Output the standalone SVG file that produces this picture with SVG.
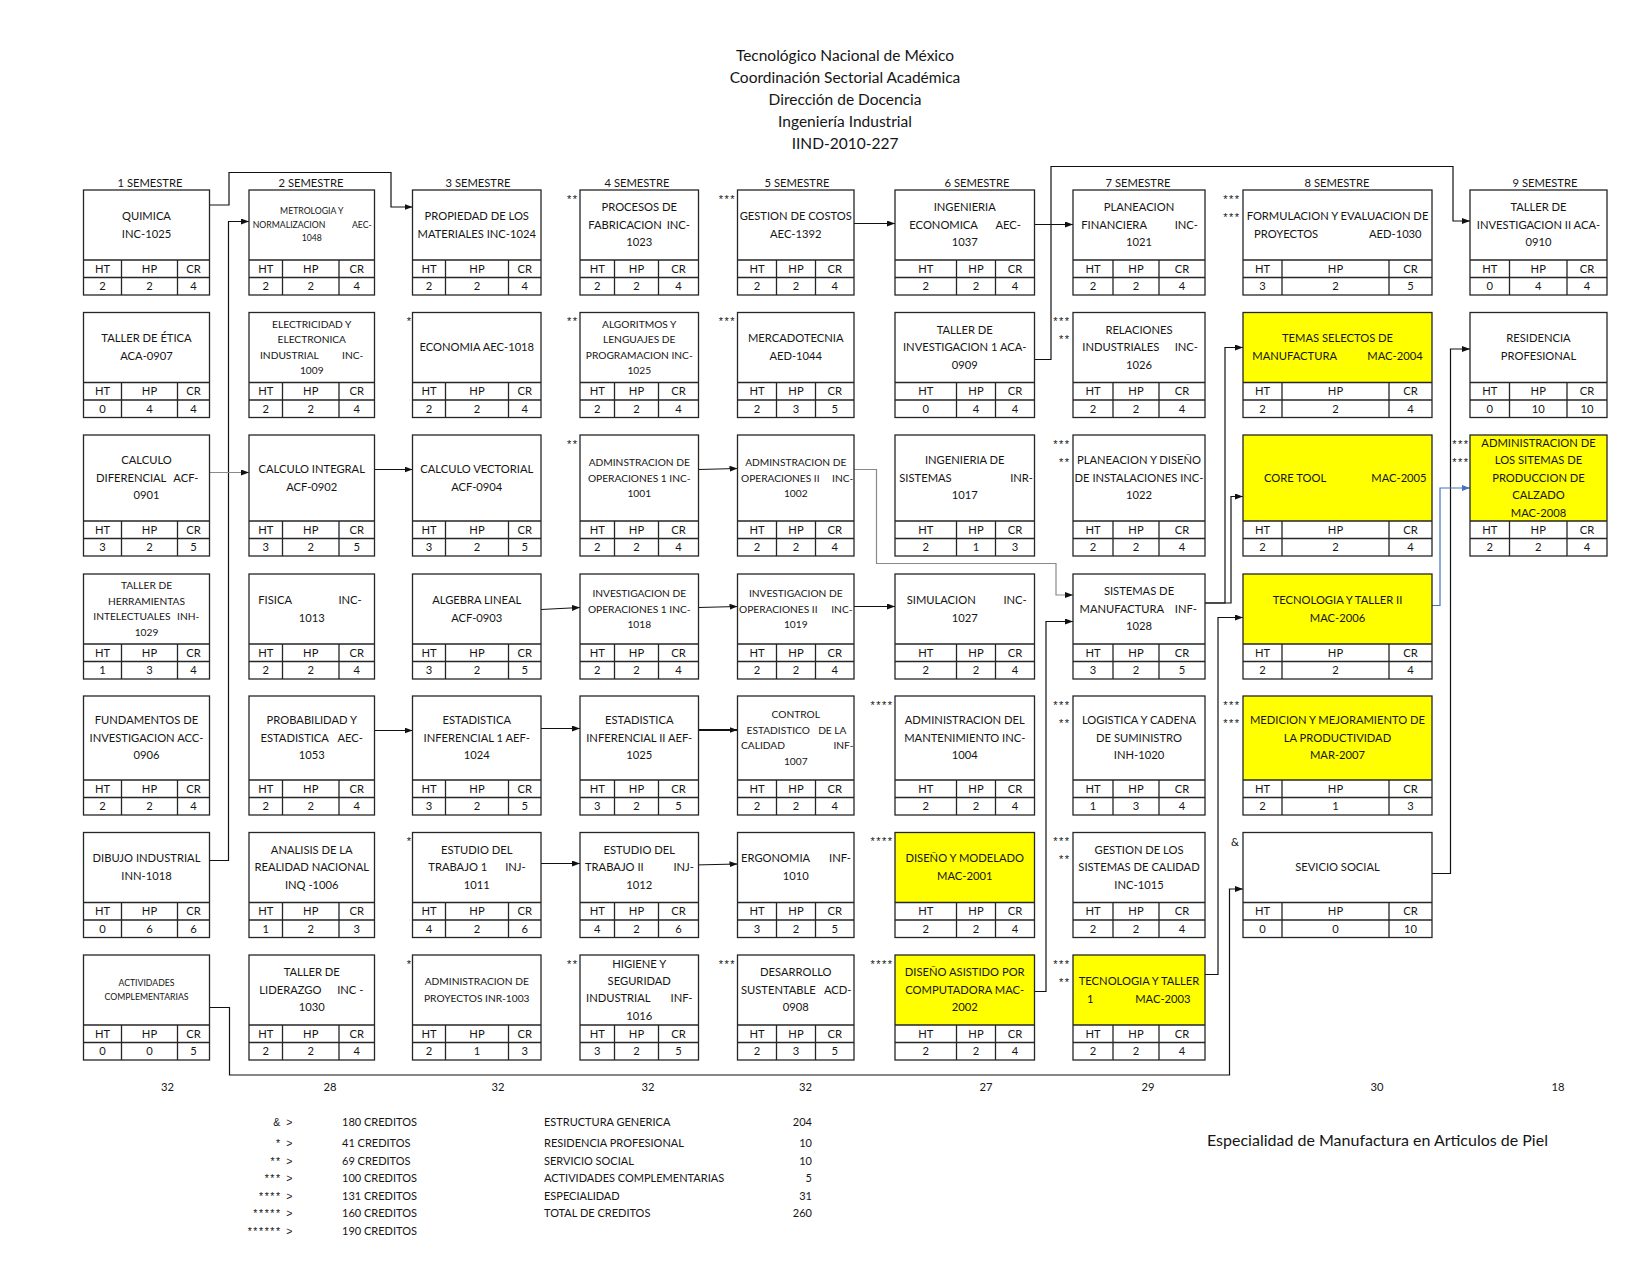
<svg xmlns="http://www.w3.org/2000/svg" width="1650" height="1275" viewBox="0 0 1650 1275">
<style>
text{font-family:Lato,"Liberation Sans",sans-serif;font-size:11.2px;fill:#151515;text-anchor:middle}
.l{text-anchor:start}.r{text-anchor:end}
.s{font-size:10.2px}.xs{font-size:8.7px}
.ttl{font-size:15.5px}
.lg{font-size:11px}
.sy{font-family:"Liberation Sans",sans-serif;font-size:10.5px;letter-spacing:1.6px}
.st{font-family:"Liberation Sans",sans-serif;font-size:11px;letter-spacing:1.5px;text-anchor:end}
.sp{font-size:16px;text-anchor:start}
.b{fill:#fff;stroke:#262626;stroke-width:1.3}
.o{fill:none;stroke:#262626;stroke-width:1.3}
.yf{fill:#ffff00}
.tb{fill:none;stroke:#262626;stroke-width:1.3}
.cn{fill:none;stroke:#111;stroke-width:1.2;marker-end:url(#a)}
.gr{stroke:#8a8a8a}
.bl{stroke:#4472c4;marker-end:url(#ab)}
</style>
<defs>
<marker id="a" viewBox="0 0 8 6" refX="8" refY="3" markerWidth="8" markerHeight="6" markerUnits="userSpaceOnUse" orient="auto"><path d="M0,0L8,3L0,6z" fill="#111"/></marker>
<marker id="ab" viewBox="0 0 8 6" refX="8" refY="3" markerWidth="8" markerHeight="6" markerUnits="userSpaceOnUse" orient="auto"><path d="M0,0L8,3L0,6z" fill="#4472c4"/></marker>
</defs>
<rect width="1650" height="1275" fill="#fff"/>

<g id="title">
<text class="ttl" x="845" y="60.8">Tecnológico Nacional de México</text>
<text class="ttl" x="845" y="82.9">Coordinación Sectorial Académica</text>
<text class="ttl" x="845" y="105">Dirección de Docencia</text>
<text class="ttl" x="845" y="127">Ingeniería Industrial</text>
<text class="ttl" x="845" y="149">IIND-2010-227</text>
</g>

<g id="semesters">
<text x="150" y="186.5">1 SEMESTRE</text>
<text x="311" y="186.5">2 SEMESTRE</text>
<text x="478" y="186.5">3 SEMESTRE</text>
<text x="637" y="186.5">4 SEMESTRE</text>
<text x="797" y="186.5">5 SEMESTRE</text>
<text x="977" y="186.5">6 SEMESTRE</text>
<text x="1138" y="186.5">7 SEMESTRE</text>
<text x="1337" y="186.5">8 SEMESTRE</text>
<text x="1545" y="186.5">9 SEMESTRE</text>
</g>

<g id="connectors">
<path class="cn" d="M209.5,205H229V172.5H391V207H412.5"/>
<path class="cn" d="M209.5,860.5H228.5V221.5H249"/>
<path class="cn gr" d="M209.5,472.5H249"/>
<path class="cn" d="M374.5,469.5H412.5"/>
<path class="cn" d="M541,609.5L580,607.5"/>
<path class="cn" d="M374.5,730.5H412.5"/>
<path class="cn" d="M541,728.5H580"/>
<path class="cn" style="stroke-width:2" d="M698.5,730H737.5"/>
<path class="cn" d="M541,863.5H580"/>
<path class="cn" d="M694,865L737.5,864"/>
<path class="cn" d="M698.5,469.5L737.5,468.5"/>
<path class="cn" d="M698.5,607.5L737.5,606.5"/>
<path class="cn" d="M854,606.5H895"/>
<path class="cn" d="M854,223.5H895"/>
<path class="cn" d="M1034.5,224.5H1073"/>
<path class="cn" d="M1034.5,359.5H1051V166.5H1453V221H1470"/>
<path class="cn gr" d="M854,469.5H876.5V563.5H1056V595H1073"/>
<path class="cn" d="M1034.5,991.5H1046V621.5H1073"/>
<path class="cn" d="M1196,603H1225V347.5H1243"/>
<path class="cn" d="M1196,603H1231V496.5H1243"/>
<path class="cn" d="M1205,974.5H1218V617.5H1243"/>
<path class="cn" d="M209.5,1007.5H229.5V1075H1229.5V889H1243"/>
<path class="cn" d="M1432,873.5H1450.5V349H1470"/>
<path class="cn bl" d="M1432,605.5H1440V488H1470"/>
</g>

<!-- Column 1 -->
<g id="c1-quimica" transform="translate(83.5,190)">
<rect class="b" width="126" height="105"/><path class="tb" d="M0,70H126M0,87.5H126M38,70V105M94,70V105"/>
<text x="63" y="29.7">QUIMICA</text><text x="63" y="47.7">INC-1025</text>
<text y="82.5"><tspan x="19">HT</tspan><tspan x="66">HP</tspan><tspan x="110">CR</tspan></text>
<text y="100"><tspan x="19">2</tspan><tspan x="66">2</tspan><tspan x="110">4</tspan></text>
</g>
<g id="c1-etica" transform="translate(83.5,312.5)">
<rect class="b" width="126" height="105"/><path class="tb" d="M0,70H126M0,87.5H126M38,70V105M94,70V105"/>
<text x="63" y="29.7">TALLER DE ÉTICA</text><text x="63" y="47.7">ACA-0907</text>
<text y="82.5"><tspan x="19">HT</tspan><tspan x="66">HP</tspan><tspan x="110">CR</tspan></text>
<text y="100"><tspan x="19">0</tspan><tspan x="66">4</tspan><tspan x="110">4</tspan></text>
</g>
<g id="c1-calculo-diferencial" transform="translate(83.5,435)">
<rect class="b" width="126" height="121"/><path class="tb" d="M0,86H126M0,103.5H126M38,86V121M94,86V121"/>
<text x="63" y="29.2">CALCULO</text><text class="l" x="12.5" y="46.7">DIFERENCIAL</text><text class="r" x="115" y="46.7">ACF-</text><text x="63" y="64.2">0901</text>
<text y="98.5"><tspan x="19">HT</tspan><tspan x="66">HP</tspan><tspan x="110">CR</tspan></text>
<text y="116"><tspan x="19">3</tspan><tspan x="66">2</tspan><tspan x="110">5</tspan></text>
</g>
<g id="c1-herramientas" transform="translate(83.5,574)">
<rect class="b" width="126" height="105"/><path class="tb" d="M0,70H126M0,87.5H126M38,70V105M94,70V105"/>
<text class="s" x="63" y="15.25">TALLER DE</text><text class="s" x="63" y="30.75">HERRAMIENTAS</text><text class="s l" x="9.8" y="46.25">INTELECTUALES</text><text class="s r" x="115.8" y="46.25">INH-</text><text class="s" x="63" y="61.75">1029</text>
<text y="82.5"><tspan x="19">HT</tspan><tspan x="66">HP</tspan><tspan x="110">CR</tspan></text>
<text y="100"><tspan x="19">1</tspan><tspan x="66">3</tspan><tspan x="110">4</tspan></text>
</g>
<g id="c1-fundamentos" transform="translate(83.5,696)">
<rect class="b" width="126" height="119"/><path class="tb" d="M0,84H126M0,101.5H126M38,84V119M94,84V119"/>
<text x="63" y="28.2">FUNDAMENTOS DE</text><text x="63" y="45.7">INVESTIGACION ACC-</text><text x="63" y="63.2">0906</text>
<text y="96.5"><tspan x="19">HT</tspan><tspan x="66">HP</tspan><tspan x="110">CR</tspan></text>
<text y="114"><tspan x="19">2</tspan><tspan x="66">2</tspan><tspan x="110">4</tspan></text>
</g>
<g id="c1-dibujo" transform="translate(83.5,832.5)">
<rect class="b" width="126" height="105"/><path class="tb" d="M0,70H126M0,87.5H126M38,70V105M94,70V105"/>
<text x="63" y="29.7">DIBUJO INDUSTRIAL</text><text x="63" y="47.7">INN-1018</text>
<text y="82.5"><tspan x="19">HT</tspan><tspan x="66">HP</tspan><tspan x="110">CR</tspan></text>
<text y="100"><tspan x="19">0</tspan><tspan x="66">6</tspan><tspan x="110">6</tspan></text>
</g>
<g id="c1-actividades" transform="translate(83.5,955)">
<rect class="b" width="126" height="105"/><path class="tb" d="M0,70H126M0,87.5H126M38,70V105M94,70V105"/>
<text class="xs" x="63" y="31">ACTIVIDADES</text><text class="xs" x="63" y="45">COMPLEMENTARIAS</text>
<text y="82.5"><tspan x="19">HT</tspan><tspan x="66">HP</tspan><tspan x="110">CR</tspan></text>
<text y="100"><tspan x="19">0</tspan><tspan x="66">0</tspan><tspan x="110">5</tspan></text>
</g>

<!-- Column 2 -->
<g id="c2-metrologia" transform="translate(249,190)">
<rect class="b" width="125.5" height="105"/><path class="tb" d="M0,70H125.5M0,87.5H125.5M33.5,70V105M90,70V105"/>
<text class="xs" x="62.75" y="23.7">METROLOGIA Y</text><text class="xs l" x="3.7" y="37.5">NORMALIZACION</text><text class="xs r" x="122.7" y="37.5">AEC-</text><text class="xs" x="62.75" y="51.3">1048</text>
<text y="82.5"><tspan x="16.75">HT</tspan><tspan x="61.75">HP</tspan><tspan x="107.75">CR</tspan></text>
<text y="100"><tspan x="16.75">2</tspan><tspan x="61.75">2</tspan><tspan x="107.75">4</tspan></text>
</g>
<g id="c2-electricidad" transform="translate(249,312.5)">
<rect class="b" width="125.5" height="105"/><path class="tb" d="M0,70H125.5M0,87.5H125.5M33.5,70V105M90,70V105"/>
<text class="s" x="62.75" y="15.25">ELECTRICIDAD Y</text><text class="s" x="62.75" y="30.75">ELECTRONICA</text><text class="s l" x="11" y="46.25">INDUSTRIAL</text><text class="s r" x="114.3" y="46.25">INC-</text><text class="s" x="62.75" y="61.75">1009</text>
<text y="82.5"><tspan x="16.75">HT</tspan><tspan x="61.75">HP</tspan><tspan x="107.75">CR</tspan></text>
<text y="100"><tspan x="16.75">2</tspan><tspan x="61.75">2</tspan><tspan x="107.75">4</tspan></text>
</g>
<g id="c2-calculo-integral" transform="translate(249,435)">
<rect class="b" width="125.5" height="121"/><path class="tb" d="M0,86H125.5M0,103.5H125.5M33.5,86V121M90,86V121"/>
<text x="62.75" y="37.7">CALCULO INTEGRAL</text><text x="62.75" y="55.7">ACF-0902</text>
<text y="98.5"><tspan x="16.75">HT</tspan><tspan x="61.75">HP</tspan><tspan x="107.75">CR</tspan></text>
<text y="116"><tspan x="16.75">3</tspan><tspan x="61.75">2</tspan><tspan x="107.75">5</tspan></text>
</g>
<g id="c2-fisica" transform="translate(249,574)">
<rect class="b" width="125.5" height="105"/><path class="tb" d="M0,70H125.5M0,87.5H125.5M33.5,70V105M90,70V105"/>
<text class="l" x="9.3" y="29.7">FISICA</text><text class="r" x="112.7" y="29.7">INC-</text><text x="62.75" y="47.7">1013</text>
<text y="82.5"><tspan x="16.75">HT</tspan><tspan x="61.75">HP</tspan><tspan x="107.75">CR</tspan></text>
<text y="100"><tspan x="16.75">2</tspan><tspan x="61.75">2</tspan><tspan x="107.75">4</tspan></text>
</g>
<g id="c2-probabilidad" transform="translate(249,696)">
<rect class="b" width="125.5" height="119"/><path class="tb" d="M0,84H125.5M0,101.5H125.5M33.5,84V119M90,84V119"/>
<text x="62.75" y="28.2">PROBABILIDAD Y</text><text class="l" x="11.5" y="45.7">ESTADISTICA</text><text class="r" x="114" y="45.7">AEC-</text><text x="62.75" y="63.2">1053</text>
<text y="96.5"><tspan x="16.75">HT</tspan><tspan x="61.75">HP</tspan><tspan x="107.75">CR</tspan></text>
<text y="114"><tspan x="16.75">2</tspan><tspan x="61.75">2</tspan><tspan x="107.75">4</tspan></text>
</g>
<g id="c2-analisis" transform="translate(249,832.5)">
<rect class="b" width="125.5" height="105"/><path class="tb" d="M0,70H125.5M0,87.5H125.5M33.5,70V105M90,70V105"/>
<text x="62.75" y="21.2">ANALISIS DE LA</text><text x="62.75" y="38.7">REALIDAD NACIONAL</text><text x="62.75" y="56.2">INQ -1006</text>
<text y="82.5"><tspan x="16.75">HT</tspan><tspan x="61.75">HP</tspan><tspan x="107.75">CR</tspan></text>
<text y="100"><tspan x="16.75">1</tspan><tspan x="61.75">2</tspan><tspan x="107.75">3</tspan></text>
</g>
<g id="c2-liderazgo" transform="translate(249,955)">
<rect class="b" width="125.5" height="105"/><path class="tb" d="M0,70H125.5M0,87.5H125.5M33.5,70V105M90,70V105"/>
<text x="62.75" y="21.2">TALLER DE</text><text class="l" x="10.3" y="38.7">LIDERAZGO</text><text class="r" x="114.3" y="38.7">INC -</text><text x="62.75" y="56.2">1030</text>
<text y="82.5"><tspan x="16.75">HT</tspan><tspan x="61.75">HP</tspan><tspan x="107.75">CR</tspan></text>
<text y="100"><tspan x="16.75">2</tspan><tspan x="61.75">2</tspan><tspan x="107.75">4</tspan></text>
</g>

<!-- Column 3 -->
<g id="c3-propiedad" transform="translate(412.5,190)">
<rect class="b" width="128.5" height="105"/><path class="tb" d="M0,70H128.5M0,87.5H128.5M33,70V105M96,70V105"/>
<text x="64.25" y="29.7">PROPIEDAD DE LOS</text><text x="64.25" y="47.7">MATERIALES INC-1024</text>
<text y="82.5"><tspan x="16.5">HT</tspan><tspan x="64.5">HP</tspan><tspan x="112.25">CR</tspan></text>
<text y="100"><tspan x="16.5">2</tspan><tspan x="64.5">2</tspan><tspan x="112.25">4</tspan></text>
</g>
<g id="c3-economia" transform="translate(412.5,312.5)">
<text class="st" x="0" y="12.5">*</text>
<rect class="b" width="128.5" height="105"/><path class="tb" d="M0,70H128.5M0,87.5H128.5M33,70V105M96,70V105"/>
<text x="64.25" y="38.7">ECONOMIA  AEC-1018</text>
<text y="82.5"><tspan x="16.5">HT</tspan><tspan x="64.5">HP</tspan><tspan x="112.25">CR</tspan></text>
<text y="100"><tspan x="16.5">2</tspan><tspan x="64.5">2</tspan><tspan x="112.25">4</tspan></text>
</g>
<g id="c3-calculo-vectorial" transform="translate(412.5,435)">
<rect class="b" width="128.5" height="121"/><path class="tb" d="M0,86H128.5M0,103.5H128.5M33,86V121M96,86V121"/>
<text x="64.25" y="37.7">CALCULO VECTORIAL</text><text x="64.25" y="55.7">ACF-0904</text>
<text y="98.5"><tspan x="16.5">HT</tspan><tspan x="64.5">HP</tspan><tspan x="112.25">CR</tspan></text>
<text y="116"><tspan x="16.5">3</tspan><tspan x="64.5">2</tspan><tspan x="112.25">5</tspan></text>
</g>
<g id="c3-algebra" transform="translate(412.5,574)">
<rect class="b" width="128.5" height="105"/><path class="tb" d="M0,70H128.5M0,87.5H128.5M33,70V105M96,70V105"/>
<text x="64.25" y="29.7">ALGEBRA LINEAL</text><text x="64.25" y="47.7">ACF-0903</text>
<text y="82.5"><tspan x="16.5">HT</tspan><tspan x="64.5">HP</tspan><tspan x="112.25">CR</tspan></text>
<text y="100"><tspan x="16.5">3</tspan><tspan x="64.5">2</tspan><tspan x="112.25">5</tspan></text>
</g>
<g id="c3-estadistica-inf1" transform="translate(412.5,696)">
<rect class="b" width="128.5" height="119"/><path class="tb" d="M0,84H128.5M0,101.5H128.5M33,84V119M96,84V119"/>
<text x="64.25" y="28.2">ESTADISTICA</text><text x="64.25" y="45.7">INFERENCIAL 1 AEF-</text><text x="64.25" y="63.2">1024</text>
<text y="96.5"><tspan x="16.5">HT</tspan><tspan x="64.5">HP</tspan><tspan x="112.25">CR</tspan></text>
<text y="114"><tspan x="16.5">3</tspan><tspan x="64.5">2</tspan><tspan x="112.25">5</tspan></text>
</g>
<g id="c3-estudio-trabajo1" transform="translate(412.5,832.5)">
<text class="st" x="0" y="12.5">*</text>
<rect class="b" width="128.5" height="105"/><path class="tb" d="M0,70H128.5M0,87.5H128.5M33,70V105M96,70V105"/>
<text x="64.25" y="21.2">ESTUDIO DEL</text><text class="l" x="15.8" y="38.7">TRABAJO 1</text><text class="r" x="113.2" y="38.7">INJ-</text><text x="64.25" y="56.2">1011</text>
<text y="82.5"><tspan x="16.5">HT</tspan><tspan x="64.5">HP</tspan><tspan x="112.25">CR</tspan></text>
<text y="100"><tspan x="16.5">4</tspan><tspan x="64.5">2</tspan><tspan x="112.25">6</tspan></text>
</g>
<g id="c3-admin-proyectos" transform="translate(412.5,955)">
<text class="st" x="0" y="12.5">*</text>
<rect class="b" width="128.5" height="105"/><path class="tb" d="M0,70H128.5M0,87.5H128.5M33,70V105M96,70V105"/>
<text class="s" x="64.25" y="30.2">ADMINISTRACION DE</text><text class="s" x="64.25" y="46.8">PROYECTOS INR-1003</text>
<text y="82.5"><tspan x="16.5">HT</tspan><tspan x="64.5">HP</tspan><tspan x="112.25">CR</tspan></text>
<text y="100"><tspan x="16.5">2</tspan><tspan x="64.5">1</tspan><tspan x="112.25">3</tspan></text>
</g>

<!-- Column 4 -->
<g id="c4-procesos" transform="translate(580,190)">
<text class="st" x="-1.5" y="12.5">**</text>
<rect class="b" width="118.5" height="105"/><path class="tb" d="M0,70H118.5M0,87.5H118.5M34.5,70V105M78.5,70V105"/>
<text x="59.25" y="21.2">PROCESOS DE</text><text class="l" x="8.3" y="38.7">FABRICACION</text><text class="r" x="110" y="38.7">INC-</text><text x="59.25" y="56.2">1023</text>
<text y="82.5"><tspan x="17.25">HT</tspan><tspan x="56.5">HP</tspan><tspan x="98.5">CR</tspan></text>
<text y="100"><tspan x="17.25">2</tspan><tspan x="56.5">2</tspan><tspan x="98.5">4</tspan></text>
</g>
<g id="c4-algoritmos" transform="translate(580,312.5)">
<text class="st" x="-1.5" y="12.5">**</text>
<rect class="b" width="118.5" height="105"/><path class="tb" d="M0,70H118.5M0,87.5H118.5M34.5,70V105M78.5,70V105"/>
<text class="s" x="59.25" y="15.25">ALGORITMOS Y</text><text class="s" x="59.25" y="30.75">LENGUAJES DE</text><text class="s" x="59.25" y="46.25">PROGRAMACION INC-</text><text class="s" x="59.25" y="61.75">1025</text>
<text y="82.5"><tspan x="17.25">HT</tspan><tspan x="56.5">HP</tspan><tspan x="98.5">CR</tspan></text>
<text y="100"><tspan x="17.25">2</tspan><tspan x="56.5">2</tspan><tspan x="98.5">4</tspan></text>
</g>
<g id="c4-admin-operaciones1" transform="translate(580,435)">
<text class="st" x="-1.5" y="12.5">**</text>
<rect class="b" width="118.5" height="121"/><path class="tb" d="M0,86H118.5M0,103.5H118.5M34.5,86V121M78.5,86V121"/>
<text class="s" x="59.25" y="31">ADMINSTRACION DE</text><text class="s" x="59.25" y="46.5">OPERACIONES 1 INC-</text><text class="s" x="59.25" y="62">1001</text>
<text y="98.5"><tspan x="17.25">HT</tspan><tspan x="56.5">HP</tspan><tspan x="98.5">CR</tspan></text>
<text y="116"><tspan x="17.25">2</tspan><tspan x="56.5">2</tspan><tspan x="98.5">4</tspan></text>
</g>
<g id="c4-inv-operaciones1" transform="translate(580,574)">
<rect class="b" width="118.5" height="105"/><path class="tb" d="M0,70H118.5M0,87.5H118.5M34.5,70V105M78.5,70V105"/>
<text class="s" x="59.25" y="23">INVESTIGACION DE</text><text class="s" x="59.25" y="38.5">OPERACIONES 1 INC-</text><text class="s" x="59.25" y="54">1018</text>
<text y="82.5"><tspan x="17.25">HT</tspan><tspan x="56.5">HP</tspan><tspan x="98.5">CR</tspan></text>
<text y="100"><tspan x="17.25">2</tspan><tspan x="56.5">2</tspan><tspan x="98.5">4</tspan></text>
</g>
<g id="c4-estadistica-inf2" transform="translate(580,696)">
<rect class="b" width="118.5" height="119"/><path class="tb" d="M0,84H118.5M0,101.5H118.5M34.5,84V119M78.5,84V119"/>
<text x="59.25" y="28.2">ESTADISTICA</text><text x="59.25" y="45.7">INFERENCIAL II AEF-</text><text x="59.25" y="63.2">1025</text>
<text y="96.5"><tspan x="17.25">HT</tspan><tspan x="56.5">HP</tspan><tspan x="98.5">CR</tspan></text>
<text y="114"><tspan x="17.25">3</tspan><tspan x="56.5">2</tspan><tspan x="98.5">5</tspan></text>
</g>
<g id="c4-estudio-trabajo2" transform="translate(580,832.5)">
<rect class="b" width="118.5" height="105"/><path class="tb" d="M0,70H118.5M0,87.5H118.5M34.5,70V105M78.5,70V105"/>
<text x="59.25" y="21.2">ESTUDIO DEL</text><text class="l" x="5" y="38.7">TRABAJO II</text><text class="r" x="114" y="38.7">INJ-</text><text x="59.25" y="56.2">1012</text>
<text y="82.5"><tspan x="17.25">HT</tspan><tspan x="56.5">HP</tspan><tspan x="98.5">CR</tspan></text>
<text y="100"><tspan x="17.25">4</tspan><tspan x="56.5">2</tspan><tspan x="98.5">6</tspan></text>
</g>
<g id="c4-higiene" transform="translate(580,955)">
<text class="st" x="-1.5" y="12.5">**</text>
<rect class="b" width="118.5" height="105"/><path class="tb" d="M0,70H118.5M0,87.5H118.5M34.5,70V105M78.5,70V105"/>
<text x="59.25" y="12.75">HIGIENE Y</text><text x="59.25" y="30.05">SEGURIDAD</text><text class="l" x="6" y="47.35">INDUSTRIAL</text><text class="r" x="112.5" y="47.35">INF-</text><text x="59.25" y="64.65">1016</text>
<text y="82.5"><tspan x="17.25">HT</tspan><tspan x="56.5">HP</tspan><tspan x="98.5">CR</tspan></text>
<text y="100"><tspan x="17.25">3</tspan><tspan x="56.5">2</tspan><tspan x="98.5">5</tspan></text>
</g>

<!-- Column 5 -->
<g id="c5-costos" transform="translate(737.5,190)">
<text class="st" x="-1.5" y="12.5">***</text>
<rect class="b" width="116.5" height="105"/><path class="tb" d="M0,70H116.5M0,87.5H116.5M39,70V105M78,70V105"/>
<text x="58.25" y="29.7">GESTION DE COSTOS</text><text x="58.25" y="47.7">AEC-1392</text>
<text y="82.5"><tspan x="19.5">HT</tspan><tspan x="58.5">HP</tspan><tspan x="97.25">CR</tspan></text>
<text y="100"><tspan x="19.5">2</tspan><tspan x="58.5">2</tspan><tspan x="97.25">4</tspan></text>
</g>
<g id="c5-mercadotecnia" transform="translate(737.5,312.5)">
<text class="st" x="-1.5" y="12.5">***</text>
<rect class="b" width="116.5" height="105"/><path class="tb" d="M0,70H116.5M0,87.5H116.5M39,70V105M78,70V105"/>
<text x="58.25" y="29.7">MERCADOTECNIA</text><text x="58.25" y="47.7">AED-1044</text>
<text y="82.5"><tspan x="19.5">HT</tspan><tspan x="58.5">HP</tspan><tspan x="97.25">CR</tspan></text>
<text y="100"><tspan x="19.5">2</tspan><tspan x="58.5">3</tspan><tspan x="97.25">5</tspan></text>
</g>
<g id="c5-admin-operaciones2" transform="translate(737.5,435)">
<rect class="b" width="116.5" height="121"/><path class="tb" d="M0,86H116.5M0,103.5H116.5M39,86V121M78,86V121"/>
<text class="s" x="58.25" y="31">ADMINSTRACION DE</text><text class="s l" x="3.5" y="46.5">OPERACIONES II</text><text class="s r" x="115.8" y="46.5">INC-</text><text class="s" x="58.25" y="62">1002</text>
<text y="98.5"><tspan x="19.5">HT</tspan><tspan x="58.5">HP</tspan><tspan x="97.25">CR</tspan></text>
<text y="116"><tspan x="19.5">2</tspan><tspan x="58.5">2</tspan><tspan x="97.25">4</tspan></text>
</g>
<g id="c5-inv-operaciones2" transform="translate(737.5,574)">
<rect class="b" width="116.5" height="105"/><path class="tb" d="M0,70H116.5M0,87.5H116.5M39,70V105M78,70V105"/>
<text class="s" x="58.25" y="23">INVESTIGACION DE</text><text class="s l" x="1.5" y="38.5">OPERACIONES II</text><text class="s r" x="115" y="38.5">INC-</text><text class="s" x="58.25" y="54">1019</text>
<text y="82.5"><tspan x="19.5">HT</tspan><tspan x="58.5">HP</tspan><tspan x="97.25">CR</tspan></text>
<text y="100"><tspan x="19.5">2</tspan><tspan x="58.5">2</tspan><tspan x="97.25">4</tspan></text>
</g>
<g id="c5-control-calidad" transform="translate(737.5,696)">
<rect class="b" width="116.5" height="119"/><path class="tb" d="M0,84H116.5M0,101.5H116.5M39,84V119M78,84V119"/>
<text class="s" x="58.25" y="21.95">CONTROL</text><text class="s l" x="9" y="37.65">ESTADISTICO</text><text class="s r" x="109" y="37.65">DE LA</text><text class="s l" x="3.5" y="53.35">CALIDAD</text><text class="s r" x="116" y="53.35">INF-</text><text class="s" x="58.25" y="69.05">1007</text>
<text y="96.5"><tspan x="19.5">HT</tspan><tspan x="58.5">HP</tspan><tspan x="97.25">CR</tspan></text>
<text y="114"><tspan x="19.5">2</tspan><tspan x="58.5">2</tspan><tspan x="97.25">4</tspan></text>
</g>
<g id="c5-ergonomia" transform="translate(737.5,832.5)">
<rect class="b" width="116.5" height="105"/><path class="tb" d="M0,70H116.5M0,87.5H116.5M39,70V105M78,70V105"/>
<text class="l" x="3.5" y="29.7">ERGONOMIA</text><text class="r" x="113.5" y="29.7">INF-</text><text x="58.25" y="47.7">1010</text>
<text y="82.5"><tspan x="19.5">HT</tspan><tspan x="58.5">HP</tspan><tspan x="97.25">CR</tspan></text>
<text y="100"><tspan x="19.5">3</tspan><tspan x="58.5">2</tspan><tspan x="97.25">5</tspan></text>
</g>
<g id="c5-desarrollo" transform="translate(737.5,955)">
<text class="st" x="-1.5" y="12.5">***</text>
<rect class="b" width="116.5" height="105"/><path class="tb" d="M0,70H116.5M0,87.5H116.5M39,70V105M78,70V105"/>
<text x="58.25" y="21.2">DESARROLLO</text><text class="l" x="3.5" y="38.7">SUSTENTABLE</text><text class="r" x="114" y="38.7">ACD-</text><text x="58.25" y="56.2">0908</text>
<text y="82.5"><tspan x="19.5">HT</tspan><tspan x="58.5">HP</tspan><tspan x="97.25">CR</tspan></text>
<text y="100"><tspan x="19.5">2</tspan><tspan x="58.5">3</tspan><tspan x="97.25">5</tspan></text>
</g>

<!-- Column 6 -->
<g id="c6-ing-economica" transform="translate(895,190)">
<rect class="b" width="139.5" height="105"/><path class="tb" d="M0,70H139.5M0,87.5H139.5M61.5,70V105M100.5,70V105"/>
<text x="69.75" y="21.2">INGENIERIA</text><text class="l" x="14.3" y="38.7">ECONOMICA</text><text class="r" x="126" y="38.7">AEC-</text><text x="69.75" y="56.2">1037</text>
<text y="82.5"><tspan x="30.75">HT</tspan><tspan x="81">HP</tspan><tspan x="120">CR</tspan></text>
<text y="100"><tspan x="30.75">2</tspan><tspan x="81">2</tspan><tspan x="120">4</tspan></text>
</g>
<g id="c6-taller-inv1" transform="translate(895,312.5)">
<rect class="b" width="139.5" height="105"/><path class="tb" d="M0,70H139.5M0,87.5H139.5M61.5,70V105M100.5,70V105"/>
<text x="69.75" y="21.2">TALLER DE</text><text x="69.75" y="38.7">INVESTIGACION 1 ACA-</text><text x="69.75" y="56.2">0909</text>
<text y="82.5"><tspan x="30.75">HT</tspan><tspan x="81">HP</tspan><tspan x="120">CR</tspan></text>
<text y="100"><tspan x="30.75">0</tspan><tspan x="81">4</tspan><tspan x="120">4</tspan></text>
</g>
<g id="c6-ing-sistemas" transform="translate(895,435)">
<rect class="b" width="139.5" height="121"/><path class="tb" d="M0,86H139.5M0,103.5H139.5M61.5,86V121M100.5,86V121"/>
<text x="69.75" y="29.2">INGENIERIA DE</text><text class="l" x="4.3" y="46.7">SISTEMAS</text><text class="r" x="138" y="46.7">INR-</text><text x="69.75" y="64.2">1017</text>
<text y="98.5"><tspan x="30.75">HT</tspan><tspan x="81">HP</tspan><tspan x="120">CR</tspan></text>
<text y="116"><tspan x="30.75">2</tspan><tspan x="81">1</tspan><tspan x="120">3</tspan></text>
</g>
<g id="c6-simulacion" transform="translate(895,574)">
<rect class="b" width="139.5" height="105"/><path class="tb" d="M0,70H139.5M0,87.5H139.5M61.5,70V105M100.5,70V105"/>
<text class="l" x="11.7" y="29.7">SIMULACION</text><text class="r" x="131.7" y="29.7">INC-</text><text x="69.75" y="47.7">1027</text>
<text y="82.5"><tspan x="30.75">HT</tspan><tspan x="81">HP</tspan><tspan x="120">CR</tspan></text>
<text y="100"><tspan x="30.75">2</tspan><tspan x="81">2</tspan><tspan x="120">4</tspan></text>
</g>
<g id="c6-admin-mantenimiento" transform="translate(895,696)">
<text class="st" x="-1.5" y="12.5">****</text>
<rect class="b" width="139.5" height="119"/><path class="tb" d="M0,84H139.5M0,101.5H139.5M61.5,84V119M100.5,84V119"/>
<text x="69.75" y="28.2">ADMINISTRACION DEL</text><text x="69.75" y="45.7">MANTENIMIENTO  INC-</text><text x="69.75" y="63.2">1004</text>
<text y="96.5"><tspan x="30.75">HT</tspan><tspan x="81">HP</tspan><tspan x="120">CR</tspan></text>
<text y="114"><tspan x="30.75">2</tspan><tspan x="81">2</tspan><tspan x="120">4</tspan></text>
</g>
<g id="c6-diseno-modelado" transform="translate(895,832.5)">
<text class="st" x="-1.5" y="12.5">****</text>
<rect class="yf" width="139.5" height="70"/><rect class="o" width="139.5" height="105"/><path class="tb" d="M0,70H139.5M0,87.5H139.5M61.5,70V105M100.5,70V105"/>
<text x="69.75" y="29.7">DISEÑO Y MODELADO</text><text x="69.75" y="47.7">MAC-2001</text>
<text y="82.5"><tspan x="30.75">HT</tspan><tspan x="81">HP</tspan><tspan x="120">CR</tspan></text>
<text y="100"><tspan x="30.75">2</tspan><tspan x="81">2</tspan><tspan x="120">4</tspan></text>
</g>
<g id="c6-diseno-asistido" transform="translate(895,955)">
<text class="st" x="-1.5" y="12.5">****</text>
<rect class="yf" width="139.5" height="70"/><rect class="o" width="139.5" height="105"/><path class="tb" d="M0,70H139.5M0,87.5H139.5M61.5,70V105M100.5,70V105"/>
<text x="69.75" y="21.2">DISEÑO ASISTIDO POR</text><text x="69.75" y="38.7">COMPUTADORA MAC-</text><text x="69.75" y="56.2">2002</text>
<text y="82.5"><tspan x="30.75">HT</tspan><tspan x="81">HP</tspan><tspan x="120">CR</tspan></text>
<text y="100"><tspan x="30.75">2</tspan><tspan x="81">2</tspan><tspan x="120">4</tspan></text>
</g>

<!-- Column 7 -->
<g id="c7-planeacion-financiera" transform="translate(1073,190)">
<rect class="b" width="132" height="105"/><path class="tb" d="M0,70H132M0,87.5H132M40,70V105M86,70V105"/>
<text x="66" y="21.2">PLANEACION</text><text class="l" x="8.2" y="38.7">FINANCIERA</text><text class="r" x="125" y="38.7">INC-</text><text x="66" y="56.2">1021</text>
<text y="82.5"><tspan x="20">HT</tspan><tspan x="63">HP</tspan><tspan x="109">CR</tspan></text>
<text y="100"><tspan x="20">2</tspan><tspan x="63">2</tspan><tspan x="109">4</tspan></text>
</g>
<g id="c7-relaciones" transform="translate(1073,312.5)">
<text class="st" x="-2.5" y="12.5">***</text><text class="st" x="-2.5" y="30.5">**</text>
<rect class="b" width="132" height="105"/><path class="tb" d="M0,70H132M0,87.5H132M40,70V105M86,70V105"/>
<text x="66" y="21.2">RELACIONES</text><text class="l" x="9.3" y="38.7">INDUSTRIALES</text><text class="r" x="125" y="38.7">INC-</text><text x="66" y="56.2">1026</text>
<text y="82.5"><tspan x="20">HT</tspan><tspan x="63">HP</tspan><tspan x="109">CR</tspan></text>
<text y="100"><tspan x="20">2</tspan><tspan x="63">2</tspan><tspan x="109">4</tspan></text>
</g>
<g id="c7-planeacion-diseno" transform="translate(1073,435)">
<text class="st" x="-2.5" y="12.5">***</text><text class="st" x="-2.5" y="30.5">**</text>
<rect class="b" width="132" height="121"/><path class="tb" d="M0,86H132M0,103.5H132M40,86V121M86,86V121"/>
<text x="66" y="29.2">PLANEACION Y DISEÑO</text><text x="66" y="46.7">DE INSTALACIONES INC-</text><text x="66" y="64.2">1022</text>
<text y="98.5"><tspan x="20">HT</tspan><tspan x="63">HP</tspan><tspan x="109">CR</tspan></text>
<text y="116"><tspan x="20">2</tspan><tspan x="63">2</tspan><tspan x="109">4</tspan></text>
</g>
<g id="c7-sistemas-manufactura" transform="translate(1073,574)">
<rect class="b" width="132" height="105"/><path class="tb" d="M0,70H132M0,87.5H132M40,70V105M86,70V105"/>
<text x="66" y="21.2">SISTEMAS DE</text><text class="l" x="6.5" y="38.7">MANUFACTURA</text><text class="r" x="123.8" y="38.7">INF-</text><text x="66" y="56.2">1028</text>
<text y="82.5"><tspan x="20">HT</tspan><tspan x="63">HP</tspan><tspan x="109">CR</tspan></text>
<text y="100"><tspan x="20">3</tspan><tspan x="63">2</tspan><tspan x="109">5</tspan></text>
</g>
<g id="c7-logistica" transform="translate(1073,696)">
<text class="st" x="-2.5" y="12.5">***</text><text class="st" x="-2.5" y="30.5">**</text>
<rect class="b" width="132" height="119"/><path class="tb" d="M0,84H132M0,101.5H132M40,84V119M86,84V119"/>
<text x="66" y="28.2">LOGISTICA Y CADENA</text><text x="66" y="45.7">DE SUMINISTRO</text><text x="66" y="63.2">INH-1020</text>
<text y="96.5"><tspan x="20">HT</tspan><tspan x="63">HP</tspan><tspan x="109">CR</tspan></text>
<text y="114"><tspan x="20">1</tspan><tspan x="63">3</tspan><tspan x="109">4</tspan></text>
</g>
<g id="c7-gestion-calidad" transform="translate(1073,832.5)">
<text class="st" x="-2.5" y="12.5">***</text><text class="st" x="-2.5" y="30.5">**</text>
<rect class="b" width="132" height="105"/><path class="tb" d="M0,70H132M0,87.5H132M40,70V105M86,70V105"/>
<text x="66" y="21.2">GESTION DE LOS</text><text x="66" y="38.7">SISTEMAS DE CALIDAD</text><text x="66" y="56.2">INC-1015</text>
<text y="82.5"><tspan x="20">HT</tspan><tspan x="63">HP</tspan><tspan x="109">CR</tspan></text>
<text y="100"><tspan x="20">2</tspan><tspan x="63">2</tspan><tspan x="109">4</tspan></text>
</g>
<g id="c7-tecnologia-taller1" transform="translate(1073,955)">
<text class="st" x="-2.5" y="12.5">***</text><text class="st" x="-2.5" y="30.5">**</text>
<rect class="yf" width="132" height="70"/><rect class="o" width="132" height="105"/><path class="tb" d="M0,70H132M0,87.5H132M40,70V105M86,70V105"/>
<text x="66" y="29.7">TECNOLOGIA Y TALLER</text><text class="l" x="14" y="47.7">1</text><text class="r" x="117.5" y="47.7">MAC-2003</text>
<text y="82.5"><tspan x="20">HT</tspan><tspan x="63">HP</tspan><tspan x="109">CR</tspan></text>
<text y="100"><tspan x="20">2</tspan><tspan x="63">2</tspan><tspan x="109">4</tspan></text>
</g>

<!-- Column 8 -->
<g id="c8-formulacion" transform="translate(1243,190)">
<text class="st" x="-2.5" y="12.5">***</text><text class="st" x="-2.5" y="30.5">***</text>
<rect class="b" width="189" height="105"/><path class="tb" d="M0,70H189M0,87.5H189M39,70V105M146,70V105"/>
<text x="94.5" y="29.7">FORMULACION Y EVALUACION DE</text><text class="l" x="11" y="47.7">PROYECTOS</text><text class="r" x="178.6" y="47.7">AED-1030</text>
<text y="82.5"><tspan x="19.5">HT</tspan><tspan x="92.5">HP</tspan><tspan x="167.5">CR</tspan></text>
<text y="100"><tspan x="19.5">3</tspan><tspan x="92.5">2</tspan><tspan x="167.5">5</tspan></text>
</g>
<g id="c8-temas-selectos" transform="translate(1243,312.5)">
<rect class="yf" width="189" height="70"/><rect class="o" width="189" height="105"/><path class="tb" d="M0,70H189M0,87.5H189M39,70V105M146,70V105"/>
<text x="94.5" y="29.7">TEMAS SELECTOS DE</text><text class="l" x="9.3" y="47.7">MANUFACTURA</text><text class="r" x="179.7" y="47.7">MAC-2004</text>
<text y="82.5"><tspan x="19.5">HT</tspan><tspan x="92.5">HP</tspan><tspan x="167.5">CR</tspan></text>
<text y="100"><tspan x="19.5">2</tspan><tspan x="92.5">2</tspan><tspan x="167.5">4</tspan></text>
</g>
<g id="c8-core-tool" transform="translate(1243,435)">
<rect class="yf" width="189" height="86"/><rect class="o" width="189" height="121"/><path class="tb" d="M0,86H189M0,103.5H189M39,86V121M146,86V121"/>
<text class="l" x="21" y="46.7">CORE TOOL</text><text class="r" x="183.6" y="46.7">MAC-2005</text>
<text y="98.5"><tspan x="19.5">HT</tspan><tspan x="92.5">HP</tspan><tspan x="167.5">CR</tspan></text>
<text y="116"><tspan x="19.5">2</tspan><tspan x="92.5">2</tspan><tspan x="167.5">4</tspan></text>
</g>
<g id="c8-tecnologia-taller2" transform="translate(1243,574)">
<rect class="yf" width="189" height="70"/><rect class="o" width="189" height="105"/><path class="tb" d="M0,70H189M0,87.5H189M39,70V105M146,70V105"/>
<text x="94.5" y="29.7">TECNOLOGIA Y TALLER  II</text><text x="94.5" y="47.7">MAC-2006</text>
<text y="82.5"><tspan x="19.5">HT</tspan><tspan x="92.5">HP</tspan><tspan x="167.5">CR</tspan></text>
<text y="100"><tspan x="19.5">2</tspan><tspan x="92.5">2</tspan><tspan x="167.5">4</tspan></text>
</g>
<g id="c8-medicion" transform="translate(1243,696)">
<text class="st" x="-2.5" y="12.5">***</text><text class="st" x="-2.5" y="30.5">***</text>
<rect class="yf" width="189" height="84"/><rect class="o" width="189" height="119"/><path class="tb" d="M0,84H189M0,101.5H189M39,84V119M146,84V119"/>
<text x="94.5" y="28.2">MEDICION Y MEJORAMIENTO DE</text><text x="94.5" y="45.7">LA PRODUCTIVIDAD</text><text x="94.5" y="63.2">MAR-2007</text>
<text y="96.5"><tspan x="19.5">HT</tspan><tspan x="92.5">HP</tspan><tspan x="167.5">CR</tspan></text>
<text y="114"><tspan x="19.5">2</tspan><tspan x="92.5">1</tspan><tspan x="167.5">3</tspan></text>
</g>
<g id="c8-servicio-social" transform="translate(1243,832.5)">
<text class="r" x="-4" y="13.5">&amp;</text>
<rect class="b" width="189" height="105"/><path class="tb" d="M0,70H189M0,87.5H189M39,70V105M146,70V105"/>
<text x="94.5" y="38.7">SEVICIO SOCIAL</text>
<text y="82.5"><tspan x="19.5">HT</tspan><tspan x="92.5">HP</tspan><tspan x="167.5">CR</tspan></text>
<text y="100"><tspan x="19.5">0</tspan><tspan x="92.5">0</tspan><tspan x="167.5">10</tspan></text>
</g>

<!-- Column 9 -->
<g id="c9-taller-inv2" transform="translate(1470,190)">
<rect class="b" width="137" height="105"/><path class="tb" d="M0,70H137M0,87.5H137M39.5,70V105M97,70V105"/>
<text x="68.5" y="21.2">TALLER DE</text><text x="68.5" y="38.7">INVESTIGACION II ACA-</text><text x="68.5" y="56.2">0910</text>
<text y="82.5"><tspan x="19.75">HT</tspan><tspan x="68.25">HP</tspan><tspan x="117">CR</tspan></text>
<text y="100"><tspan x="19.75">0</tspan><tspan x="68.25">4</tspan><tspan x="117">4</tspan></text>
</g>
<g id="c9-residencia" transform="translate(1470,312.5)">
<rect class="b" width="137" height="105"/><path class="tb" d="M0,70H137M0,87.5H137M39.5,70V105M97,70V105"/>
<text x="68.5" y="29.7">RESIDENCIA</text><text x="68.5" y="47.7">PROFESIONAL</text>
<text y="82.5"><tspan x="19.75">HT</tspan><tspan x="68.25">HP</tspan><tspan x="117">CR</tspan></text>
<text y="100"><tspan x="19.75">0</tspan><tspan x="68.25">10</tspan><tspan x="117">10</tspan></text>
</g>
<g id="c9-admin-calzado" transform="translate(1470,435)">
<text class="st" x="-0.5" y="12.5">***</text><text class="st" x="-0.5" y="30.5">***</text>
<rect class="yf" width="137" height="86"/><rect class="o" width="137" height="121"/><path class="tb" d="M0,86H137M0,103.5H137M39.5,86V121M97,86V121"/>
<text x="68.5" y="11.7">ADMINISTRACION DE</text><text x="68.5" y="29.2">LOS SITEMAS DE</text><text x="68.5" y="46.7">PRODUCCION DE</text><text x="68.5" y="64.2">CALZADO</text><text x="68.5" y="81.7">MAC-2008</text>
<text y="98.5"><tspan x="19.75">HT</tspan><tspan x="68.25">HP</tspan><tspan x="117">CR</tspan></text>
<text y="116"><tspan x="19.75">2</tspan><tspan x="68.25">2</tspan><tspan x="117">4</tspan></text>
</g>

<g id="totals">
<text x="167.5" y="1090.7">32</text>
<text x="330" y="1090.7">28</text>
<text x="498" y="1090.7">32</text>
<text x="648" y="1090.7">32</text>
<text x="805.5" y="1090.7">32</text>
<text x="986" y="1090.7">27</text>
<text x="1148" y="1090.7">29</text>
<text x="1377" y="1090.7">30</text>
<text x="1558" y="1090.7">18</text>
</g>

<g id="legend">
<text class="sy r" x="294" y="1125.5">&amp; &gt;</text>
<text class="sy r" x="294" y="1146.5">* &gt;</text>
<text class="sy r" x="294" y="1164.5">** &gt;</text>
<text class="sy r" x="294" y="1182">*** &gt;</text>
<text class="sy r" x="294" y="1200">**** &gt;</text>
<text class="sy r" x="294" y="1216.5">***** &gt;</text>
<text class="sy r" x="294" y="1234.5">****** &gt;</text>
<text class="lg l" x="342" y="1125.5">180 CREDITOS</text>
<text class="lg l" x="342" y="1146.5">41 CREDITOS</text>
<text class="lg l" x="342" y="1164.5">69 CREDITOS</text>
<text class="lg l" x="342" y="1182">100 CREDITOS</text>
<text class="lg l" x="342" y="1200">131 CREDITOS</text>
<text class="lg l" x="342" y="1216.5">160 CREDITOS</text>
<text class="lg l" x="342" y="1234.5">190 CREDITOS</text>
<text class="lg l" x="544" y="1125.5">ESTRUCTURA GENERICA</text>
<text class="lg l" x="544" y="1146.5">RESIDENCIA PROFESIONAL</text>
<text class="lg l" x="544" y="1164.5">SERVICIO SOCIAL</text>
<text class="lg l" x="544" y="1182">ACTIVIDADES COMPLEMENTARIAS</text>
<text class="lg l" x="544" y="1200">ESPECIALIDAD</text>
<text class="lg l" x="544" y="1216.5">TOTAL DE CREDITOS</text>
<text class="lg r" x="812" y="1125.5">204</text>
<text class="lg r" x="812" y="1146.5">10</text>
<text class="lg r" x="812" y="1164.5">10</text>
<text class="lg r" x="812" y="1182">5</text>
<text class="lg r" x="812" y="1200">31</text>
<text class="lg r" x="812" y="1216.5">260</text>
<text class="sp" x="1207" y="1146">Especialidad de Manufactura en Articulos de Piel</text>
</g>
</svg>
